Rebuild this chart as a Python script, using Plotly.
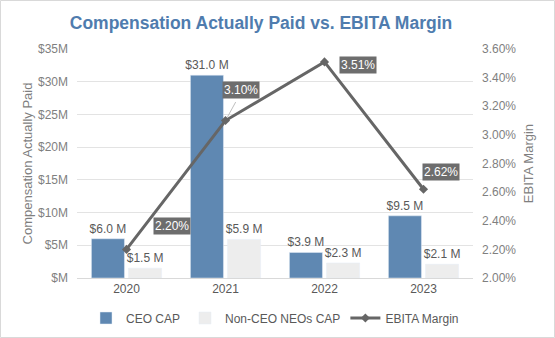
import plotly.graph_objects as go

years = ["2020", "2021", "2022", "2023"]
ceo_cap = [6.0, 31.0, 3.9, 9.5]
non_ceo_cap = [1.5, 5.9, 2.3, 2.1]
ebita_margin = [2.20, 3.10, 3.51, 2.62]

left_ticks = [0, 5, 10, 15, 20, 25, 30, 35]
left_labels = ["$M", "$5M", "$10M", "$15M", "$20M", "$25M", "$30M", "$35M"]
right_ticks = [2.0, 2.2, 2.4, 2.6, 2.8, 3.0, 3.2, 3.4, 3.6]
right_labels = ["2.00%", "2.20%", "2.40%", "2.60%", "2.80%", "3.00%", "3.20%", "3.40%", "3.60%"]

FONT = "Liberation Sans, Arial, sans-serif"
GREY = "#7f7f7f"
TXT = "#595959"

fig = go.Figure()
fig.add_trace(go.Bar(
    x=years, y=ceo_cap, name="CEO CAP", marker_color="#5f88b2",
    text=[f"${v:.1f} M" for v in ceo_cap], textposition="outside", constraintext="none",
    textfont=dict(color=TXT, size=12, family=FONT), cliponaxis=False,
))
fig.add_trace(go.Bar(
    x=years, y=non_ceo_cap, name="Non-CEO NEOs CAP", marker_color="#ededed",
    text=[f"${v:.1f} M" for v in non_ceo_cap], textposition="outside", constraintext="none",
    textfont=dict(color=TXT, size=12, family=FONT), cliponaxis=False,
))
fig.add_trace(go.Scatter(
    x=years, y=ebita_margin, name="EBITA Margin", yaxis="y2",
    mode="lines+markers", line=dict(color="#666666", width=3),
    marker=dict(symbol="diamond", size=7, color="#666666"), cliponaxis=False,
))

# thin leader line for the 2021 label, ending at the label box's lower edge
fig.add_annotation(
    x=1, y=ebita_margin[1], xref="x", yref="y2", text="", showarrow=True,
    arrowhead=0, arrowwidth=1, arrowcolor="#bfbfbf", ax=11, ay=-20, standoff=4,
)

# percentage labels (x as category index)
offsets = [(45, 23), (15, 31), (33, -3), (17, 17)]
for i, (v, (dx, dy)) in enumerate(zip(ebita_margin, offsets)):
    fig.add_annotation(
        x=i, y=v, xref="x", yref="y2", text=f"{v:.2f}%", showarrow=False,
        xshift=dx, yshift=dy, bgcolor="#6d6d6d",
        font=dict(color="white", size=12, family=FONT), borderpad=1,
    )

# chart border
fig.add_shape(type="rect", xref="paper", yref="paper",
              x0=-76.5 / 396, x1=1 + 81.5 / 396, y0=-59.5 / 229, y1=1 + 48.5 / 229,
              line=dict(color="#d9d9d9", width=1), layer="below")

fig.update_layout(
    width=555, height=338,
    margin=dict(l=77, r=82, t=49, b=60, autoexpand=False),
    paper_bgcolor="white", plot_bgcolor="white",
    font=dict(family=FONT, color=GREY, size=12),
    title=dict(text="<b>Compensation Actually Paid vs. EBITA Margin</b>",
               xref="container", x=261 / 555, xanchor="center",
               yref="container", y=1 - 23 / 338, yanchor="middle",
               font=dict(size=17.5, color="#4f7cae", family=FONT)),
    barmode="group", bargap=0.25, bargroupgap=0.11,
    showlegend=True,
    legend=dict(orientation="h", x=0.5, xanchor="center", y=-(318 - 278) / 229, yanchor="middle",
                font=dict(size=12, color=TXT, family=FONT), traceorder="normal",
                itemwidth=30),
    xaxis=dict(type="category", range=[-0.5, 3.5], showgrid=False, showline=True,
               linecolor="#d9d9d9", tickfont=dict(color=TXT, size=12), ticks=""),
    yaxis=dict(range=[0, 35], tickvals=left_ticks, ticktext=left_labels,
               showgrid=True, gridcolor="#e3e3e3", zeroline=False, ticklabelstandoff=8,
               tickfont=dict(color=GREY, size=12),
               title=dict(text="Compensation Actually Paid", font=dict(size=13, color=GREY), standoff=2)),
    yaxis2=dict(range=[2.0, 3.6], tickvals=right_ticks, ticktext=right_labels,
                overlaying="y", side="right", showgrid=False, zeroline=False, ticklabelstandoff=8,
                tickfont=dict(color=GREY, size=12),
                title=dict(text="EBITA Margin", font=dict(size=13, color=GREY), standoff=8)),
)

fig.write_html("out.html")
